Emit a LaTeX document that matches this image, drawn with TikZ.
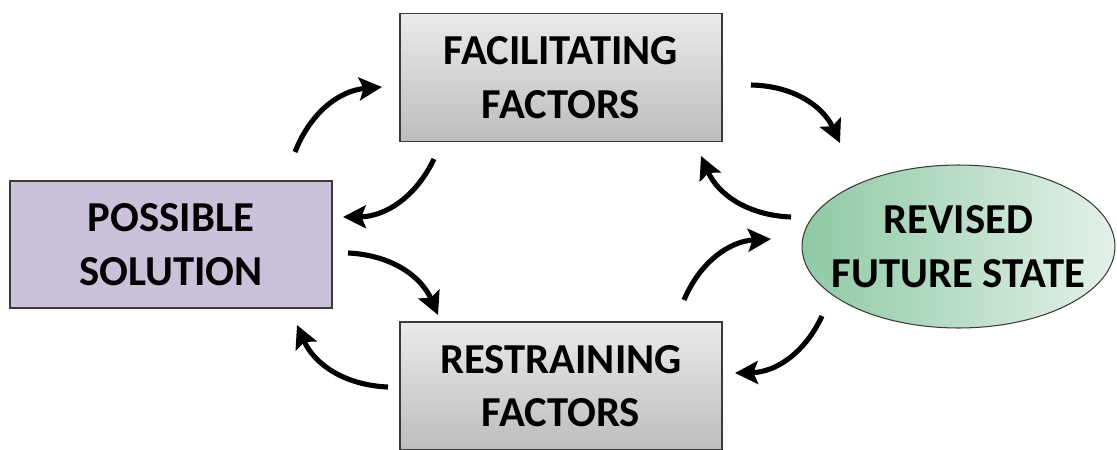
\documentclass[tikz,border=0pt]{standalone}
\usepackage{fontspec}
\setmainfont{Carlito}
\usetikzlibrary{arrows.meta,shapes.geometric}
\definecolor{boxline}{HTML}{3A3A3A}
\definecolor{lavender}{HTML}{CCC1DB}
\definecolor{greyTop}{HTML}{EAEAEA}
\definecolor{greyBot}{HTML}{BDBDBD}
\definecolor{greenL}{HTML}{8FC9A5}
\definecolor{greenR}{HTML}{E4F1E9}
\tikzset{
  label text/.style={font=\bfseries\fontsize{24.3}{30.5}\selectfont, align=center, text=black},
  factorbox/.style={label text, draw=boxline, line width=0.8pt, rectangle,
    minimum width=6.44cm, minimum height=2.56cm, inner sep=0pt, outer sep=0pt,
    top color=greyTop, bottom color=greyBot},
  solutionbox/.style={label text, draw=boxline, line width=0.8pt, rectangle,
    minimum width=6.44cm, minimum height=2.54cm, inner sep=0pt, outer sep=0pt,
    fill=lavender},
  statebox/.style={draw=boxline, line width=0.6pt, ellipse,
    minimum width=6.26cm, minimum height=3.26cm, inner sep=0pt, outer sep=0pt,
    left color=greenL, right color=greenR},
  flow/.style={line width=2.9pt, -{Stealth[length=13pt,width=13pt,inset=2.5pt]}, bend left=32}
}
\begin{document}
\begin{tikzpicture}[x=0.02cm,y=-0.02cm]
  \useasboundingbox (0,0) rectangle (1117,450);

  % the four states of the cycle
  \node[solutionbox] (sol) at (171,244.5) {POSSIBLE\\SOLUTION};
  \node[factorbox] (fac) at (561,77.5) {FACILITATING\\FACTORS};
  \node[factorbox] (res) at (561,386) {RESTRAINING\\FACTORS};
  \node[statebox] (fut) at (958.5,246.5) {};
  \node[label text] (futtext) at (fut.center) {REVISED\\FUTURE STATE};

  % end points of the curved arrows
  \coordinate (a1s) at (295,152); \coordinate (a1e) at (382,87);
  \coordinate (a2s) at (434,159); \coordinate (a2e) at (343,217);
  \coordinate (a3s) at (751,85);  \coordinate (a3e) at (840,143);
  \coordinate (a4s) at (791,217); \coordinate (a4e) at (701,156);
  \coordinate (a5s) at (684,300); \coordinate (a5e) at (771,239);
  \coordinate (a6s) at (822,316); \coordinate (a6e) at (735,373);
  \coordinate (a7s) at (348,253); \coordinate (a7e) at (438,315);
  \coordinate (a8s) at (388,387); \coordinate (a8e) at (297,325);

  \draw[flow] (a1s) to (a1e);
  \draw[flow] (a2s) to (a2e);
  \draw[flow] (a3s) to (a3e);
  \draw[flow] (a4s) to (a4e);
  \draw[flow] (a5s) to (a5e);
  \draw[flow] (a6s) to (a6e);
  \draw[flow] (a7s) to (a7e);
  \draw[flow] (a8s) to (a8e);
\end{tikzpicture}
\end{document}
